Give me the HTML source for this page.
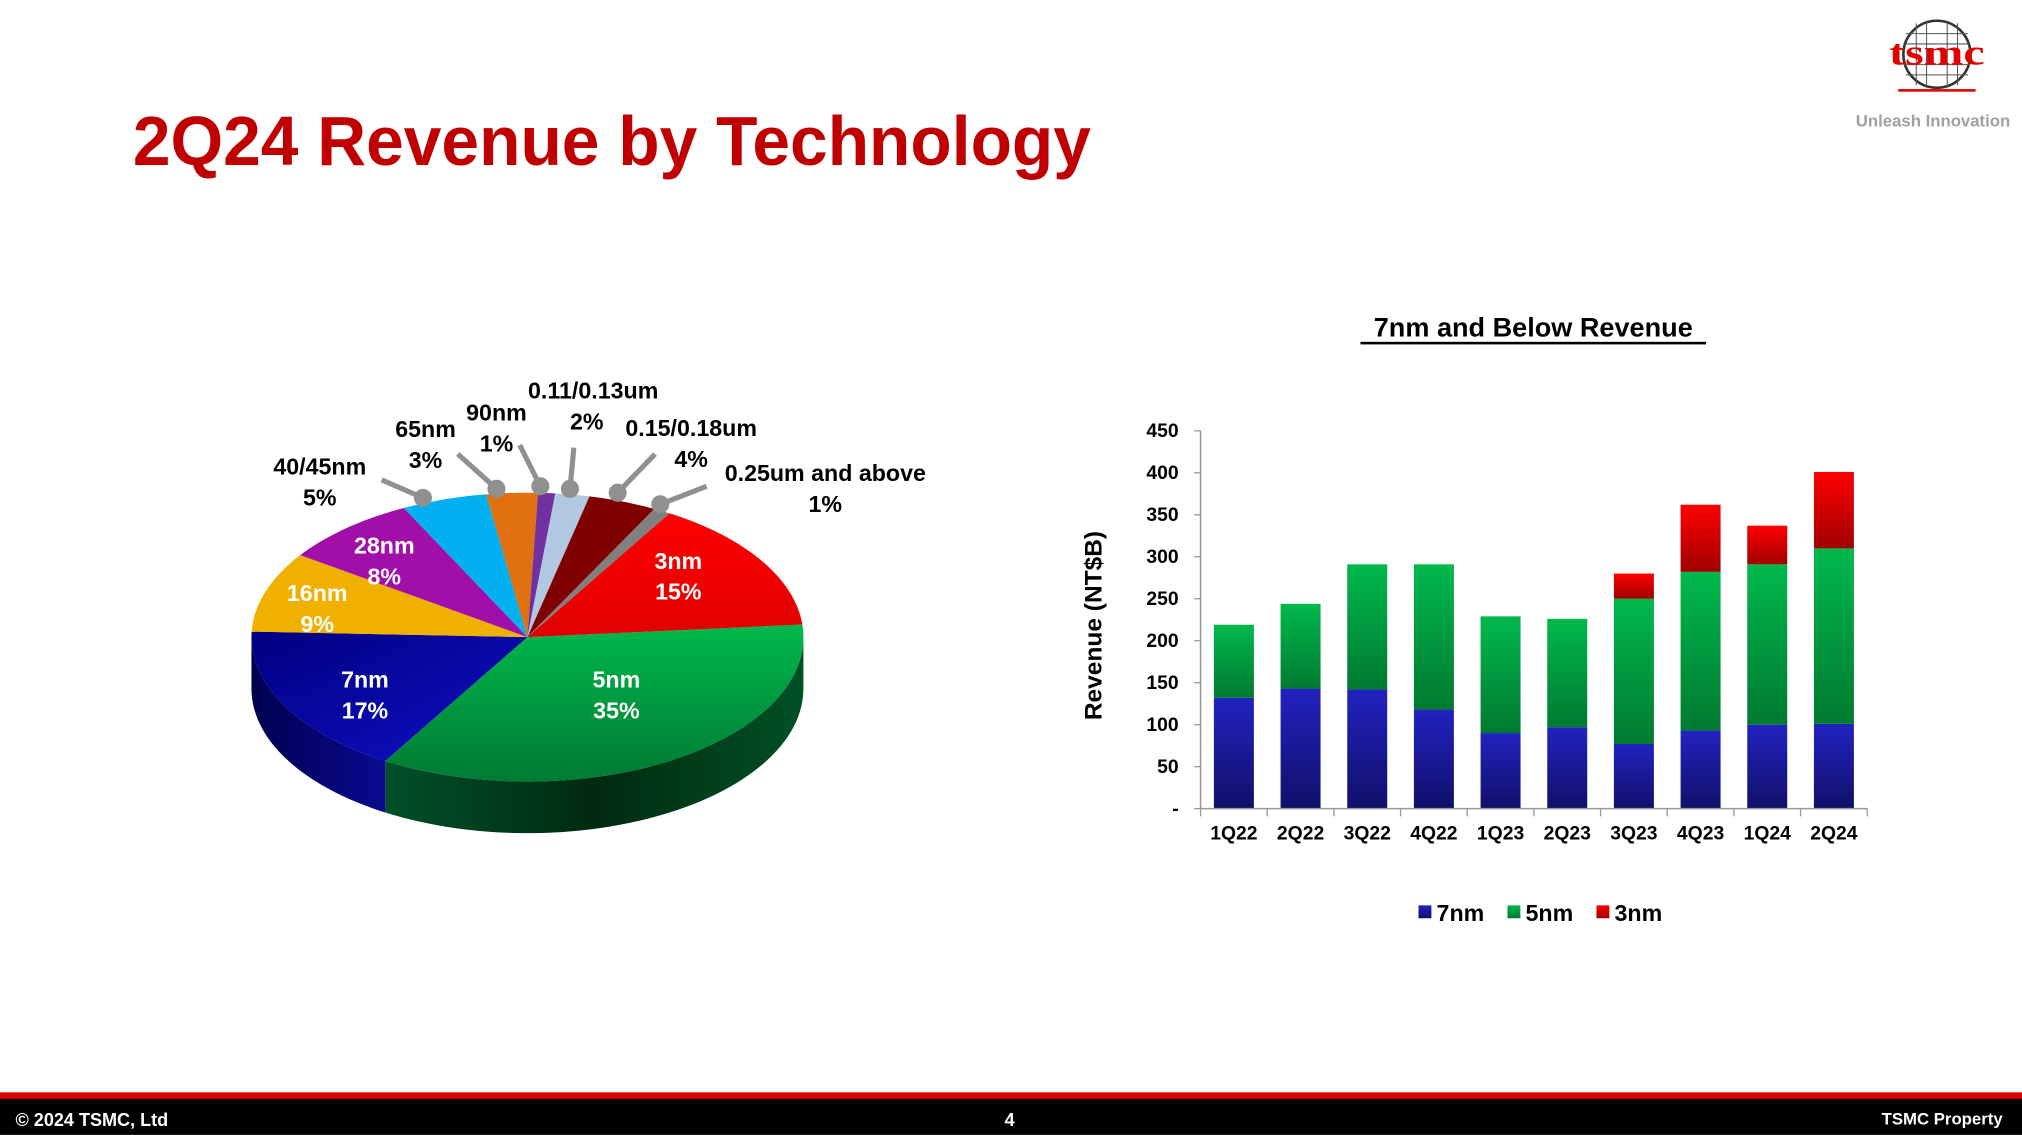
<!DOCTYPE html>
<html><head><meta charset="utf-8"><style>
html,body{margin:0;padding:0;background:#fff;}
svg{display:block;font-family:"Liberation Sans",sans-serif;font-weight:bold;}
</style></head><body>
<svg id="s" width="2022" height="1135" viewBox="0 0 1568 880" xmlns="http://www.w3.org/2000/svg">
<defs>
<linearGradient id="gG" x1="0" y1="0" x2="0" y2="1"><stop offset="0" stop-color="#00b84c"/><stop offset="1" stop-color="#007a33"/></linearGradient>
<linearGradient id="gB" x1="0" y1="0" x2="1" y2="1"><stop offset="0" stop-color="#000080"/><stop offset="1" stop-color="#1010c8"/></linearGradient>
<linearGradient id="gR" x1="0" y1="0" x2="0" y2="1"><stop offset="0" stop-color="#ff0000"/><stop offset="1" stop-color="#e00000"/></linearGradient>
<linearGradient id="gSG" x1="0" y1="0" x2="1" y2="0"><stop offset="0" stop-color="#00502a"/><stop offset="0.5" stop-color="#002a10"/><stop offset="1" stop-color="#005025"/></linearGradient>
<linearGradient id="gSB" x1="0" y1="0" x2="1" y2="0"><stop offset="0" stop-color="#000050"/><stop offset="1" stop-color="#0a0a90"/></linearGradient>
<linearGradient id="bB" x1="0" y1="0" x2="0" y2="1"><stop offset="0" stop-color="#2222c0"/><stop offset="1" stop-color="#10106a"/></linearGradient>
<linearGradient id="bG" x1="0" y1="0" x2="0" y2="1"><stop offset="0" stop-color="#00b84c"/><stop offset="1" stop-color="#007a30"/></linearGradient>
<linearGradient id="bR" x1="0" y1="0" x2="0" y2="1"><stop offset="0" stop-color="#ff0000"/><stop offset="1" stop-color="#a00000"/></linearGradient>
</defs>
<g id="pie"></g>
<g id="bars"></g>
<!-- title -->
<text x="103" y="128" font-size="54" fill="#c00000" textLength="743" lengthAdjust="spacingAndGlyphs">2Q24 Revenue by Technology</text>
<!-- logo -->
<circle cx="1502" cy="42" r="26" fill="#fff" stroke="#333" stroke-width="2"/>
<g stroke="#555" stroke-width="0.8">
<line x1="1478" y1="26" x2="1526" y2="26"/><line x1="1476" y1="34" x2="1528" y2="34"/><line x1="1476" y1="50" x2="1528" y2="50"/><line x1="1478" y1="58" x2="1526" y2="58"/>
<line x1="1486" y1="18" x2="1486" y2="66"/><line x1="1494" y1="16" x2="1494" y2="68"/><line x1="1510" y1="16" x2="1510" y2="68"/><line x1="1518" y1="18" x2="1518" y2="66"/>
</g>
<text x="1502" y="50" font-size="28" fill="#e00000" text-anchor="middle" font-family="Liberation Serif,serif" textLength="74" lengthAdjust="spacingAndGlyphs">tsmc</text>
<rect x="1472" y="69" width="60" height="2" fill="#e00000"/>
<text x="1499" y="98" font-size="13" fill="#a0a0a0" text-anchor="middle">Unleash Innovation</text>
<!-- pie labels -->
<g font-size="18" fill="#fff" text-anchor="middle">
<text x="526" y="441">3nm</text><text x="526" y="465">15%</text>
<text x="478" y="533">5nm</text><text x="478" y="557">35%</text>
<text x="283" y="533">7nm</text><text x="283" y="557">17%</text>
<text x="246" y="466">16nm</text><text x="246" y="490">9%</text>
<text x="298" y="429">28nm</text><text x="298" y="453">8%</text>
</g>
<g font-size="18" fill="#000" text-anchor="middle">
<text x="248" y="368">40/45nm</text><text x="248" y="392">5%</text>
<text x="330" y="339">65nm</text><text x="330" y="363">3%</text>
<text x="385" y="326">90nm</text><text x="385" y="350">1%</text>
<text x="460" y="309">0.11/0.13um</text><text x="455" y="333">2%</text>
<text x="536" y="338">0.15/0.18um</text><text x="536" y="362">4%</text>
<text x="640" y="373">0.25um and above</text><text x="640" y="397">1%</text>
</g>
<g stroke="#909090" stroke-width="4" fill="#909090">
<line x1="296" y1="372" x2="328" y2="386"/><circle cx="328" cy="386" r="5"/>
<line x1="355" y1="352" x2="385" y2="379"/><circle cx="385" cy="379" r="5"/>
<line x1="403" y1="345" x2="419" y2="377"/><circle cx="419" cy="377" r="5"/>
<line x1="445" y1="347" x2="442" y2="379"/><circle cx="442" cy="379" r="5"/>
<line x1="508" y1="352" x2="479" y2="382"/><circle cx="479" cy="382" r="5"/>
<line x1="548" y1="377" x2="512" y2="391"/><circle cx="512" cy="391" r="5"/>
</g>
<!-- bar chart text -->
<text x="1189" y="261" font-size="21" fill="#000" text-anchor="middle">7nm and Below Revenue</text>
<rect x="1055" y="265" width="268" height="2" fill="#000"/>
<text transform="translate(854,485) rotate(-90)" font-size="19" text-anchor="middle">Revenue (NT$B)</text>
<g font-size="15" text-anchor="end" id="yl"></g>
<g font-size="15" text-anchor="middle" id="xl"></g>
<g font-size="18">
<rect x="1100" y="702" width="10" height="10" fill="url(#bB)"/><text x="1114" y="714">7nm</text>
<rect x="1169" y="702" width="10" height="10" fill="url(#bG)"/><text x="1183" y="714">5nm</text>
<rect x="1238" y="702" width="10" height="10" fill="url(#bR)"/><text x="1252" y="714">3nm</text>
</g>
<!-- footer -->
<rect x="0" y="847" width="1568" height="6" fill="#e00000"/>
<rect x="0" y="852" width="1568" height="28" fill="#000"/>
<text x="12" y="873" font-size="14" fill="#fff">© 2024 TSMC, Ltd</text>
<text x="783" y="873" font-size="14" fill="#fff" text-anchor="middle">4</text>
<text x="1553" y="872" font-size="13" fill="#fff" text-anchor="end">TSMC Property</text>
</svg>
<script>
var NS="http://www.w3.org/2000/svg";
function el(p,t,a){var e=document.createElementNS(NS,t);for(var k in a)e.setAttribute(k,a[k]);p.appendChild(e);return e;}
var cx=409,cy=494,rx=214,ry=112,D=40;
function P(t){var r=t*Math.PI/180;return [cx+rx*Math.cos(r),cy+ry*Math.sin(r)];}
var pie=document.getElementById('pie');
// sides
function side(a,b,fill){var s="M"+P(a)+" ";for(var t=a;t<=b;t+=2){var p=P(t);s+="L"+p[0]+","+p[1]+" ";}
var pb=P(b);s+="L"+pb[0]+","+pb[1]+" ";
for(var t=b;t>=a;t-=2){var p=P(t);s+="L"+p[0]+","+(p[1]+D)+" ";}
var pa=P(a);s+="L"+pa[0]+","+(pa[1]+D)+"Z";el(pie,'path',{d:s,fill:fill});}
side(0,121,"url(#gSG)");side(121,180,"url(#gSB)");
var sl=[[35,"url(#gG)"],[17,"url(#gB)"],[9,"#f0b000"],[8,"#a010a8"],[5,"#00b0f0"],[3,"#e07010"],[1,"#7030a0"],[2,"#b0c8e0"],[4,"#800000"],[1,"#808080"],[15,"url(#gR)"]];
var a=-5;
sl.forEach(function(s){var b=a+s[0]*3.6;var d="M"+cx+","+cy+" ";
for(var t=a;t<b;t+=1){var p=P(t);d+="L"+p[0]+","+p[1]+" ";}
var p=P(b);d+="L"+p[0]+","+p[1]+"Z";el(pie,'path',{d:d,fill:s[1]});a=b;});
// bars
var bars=document.getElementById('bars');
var y0=627,k=293/450,x0=931,x1=1448,w=(x1-x0)/10;
var data=[[132,219,0],[143,244,0],[142,291,0],[118,291,0],[90,229,0],[97,226,0],[77,250,280],[93,282,362],[100,291,337],[101,310,401]];
var cats=["1Q22","2Q22","3Q22","4Q22","1Q23","2Q23","3Q23","4Q23","1Q24","2Q24"];
var xl=document.getElementById('xl'),yl=document.getElementById('yl');
data.forEach(function(d,i){var c=x0+w*(i+0.5),bw=31;
el(bars,'rect',{x:c-bw/2,y:y0-d[0]*k,width:bw,height:d[0]*k,fill:"url(#bB)"});
el(bars,'rect',{x:c-bw/2,y:y0-d[1]*k,width:bw,height:(d[1]-d[0])*k,fill:"url(#bG)"});
if(d[2])el(bars,'rect',{x:c-bw/2,y:y0-d[2]*k,width:bw,height:(d[2]-d[1])*k,fill:"url(#bR)"});
var t=el(xl,'text',{x:c,y:651});t.textContent=cats[i];
el(bars,'line',{x1:x0+w*i,y1:y0,x2:x0+w*i,y2:y0+6,stroke:"#999","stroke-width":1});
});
el(bars,'line',{x1:x1,y1:y0,x2:x1,y2:y0+6,stroke:"#999","stroke-width":1});
el(bars,'line',{x1:x0,y1:334,x2:x0,y2:y0,stroke:"#999","stroke-width":1.2});
el(bars,'line',{x1:x0,y1:y0,x2:x1,y2:y0,stroke:"#999","stroke-width":1.2});
for(var v=0;v<=450;v+=50){var y=y0-v*k;el(bars,'line',{x1:x0-5,y1:y,x2:x0,y2:y,stroke:"#999","stroke-width":1});
var t=el(yl,'text',{x:914,y:y+5});t.textContent=v?v:"-";}
</script>
</body></html>
